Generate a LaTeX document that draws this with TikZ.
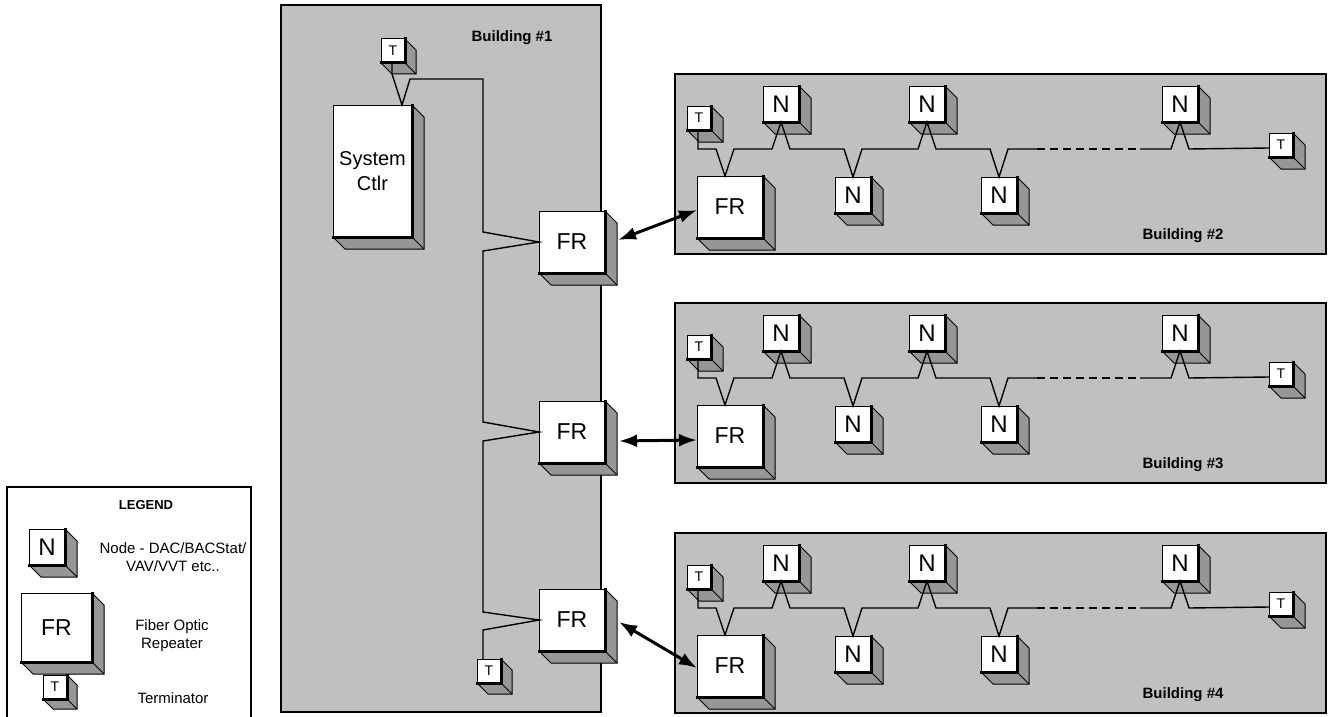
\documentclass[tikz,border=0pt]{standalone}
\usepackage{fontspec}
\setmainfont{Liberation Sans}
\usetikzlibrary{calc,arrows.meta}

\definecolor{bldgray}{RGB}{192,192,192}
\definecolor{sidegray}{RGB}{150,150,150}

\tikzset{
  building/.style={draw, line width=1.8pt, fill=bldgray},
  face/.style={draw, line width=1pt, fill=white, inner sep=0pt, outer sep=0pt, anchor=north west},
  unitN/.style={face, minimum width=36pt, minimum height=36pt, font=\fontsize{24}{24}\selectfont},
  unitFR/.style={face, minimum width=66pt, minimum height=62pt, font=\fontsize{23}{23}\selectfont},
  unitT/.style={face, minimum width=24pt, minimum height=24pt, font=\fontsize{14}{14}\selectfont},
  side/.style={draw, line width=1pt, fill=sidegray, line join=miter},
  edge/.style={line width=1pt},
  rim/.style={line width=3pt, line cap=rect},
  bus/.style={line width=1.4pt, line join=miter},
  busgap/.style={bus, dash pattern=on 8pt off 5pt},
  link/.style={line width=3pt, {Latex[length=18pt,width=13pt]}-{Latex[length=18pt,width=13pt]}},
  bldlabel/.style={font=\fontsize{15}{15}\selectfont\bfseries},
  legtext/.style={align=center, font=\fontsize{15}{18}\selectfont},
}

% grey side faces and dark rim of a unit
\newcommand{\unitside}[2][12]{%
  \filldraw[side] (#2.north east) -- ++(#1,#1) -- ($(#2.south east)+(#1,#1)$) -- ($(#2.south west)+(#1,#1)$) -- (#2.south west) -- (#2.south east) -- cycle;
  \draw[edge] (#2.south east) -- ++(#1,#1);
  \draw[rim] (#2.south west) -- (#2.south east) -- (#2.north east);
}

\begin{document}
\begin{tikzpicture}[x=1pt,y=-1pt]
  \useasboundingbox (0,0) rectangle (1333,717);

  % Building #1
  \draw[building] (281,5) rectangle (601,712);
  \node[bldlabel] (lbl1) at (512,38) {Building \#1};
  \node[unitT] (tA) at (381,39) {T};
  \unitside[11]{tA}
  \node[face, minimum width=79pt, minimum height=132pt, align=center, font=\fontsize{20}{25}\selectfont] (ctlr) at (333,105) {System\\Ctlr};
  \unitside{ctlr}
  \node[unitFR] (fra) at (539,211) {FR};
  \unitside{fra}
  \node[unitFR] (frb) at (539,401) {FR};
  \unitside{frb}
  \node[unitFR] (frc) at (539,589) {FR};
  \unitside{frc}
  \node[unitT] (tB) at (477,659) {T};
  \unitside[11]{tB}
  \draw[bus] ($(tA.south west)+(11,0)$) -- ++(0,11) -- ($(ctlr.north west)+(69,0)$) -- (410,79) -- (483,79)
    -- (483,232) -- (fra.west) -- (483,251)
    -- (483,422) -- (frb.west) -- (483,441)
    -- (483,612) -- (frc.west) -- (483,630)
    -- ($(tB.north west)+(6,0)$);% trunk in building 1

  % Buildings #2 to #4
  \foreach \top/\n in {74/2, 303/3, 533/4} {
    \begin{scope}[shift={(675,\top)}]
      \draw[building] (0,0) rectangle (651,180);
      \node[bldlabel] (lbl\n) at (508,162) {Building \#\n};
      \node[unitT] (tl\n) at (12,32) {T};
      \unitside{tl\n}
      \node[unitFR] (fr\n) at (22,102) {FR};
      \unitside{fr\n}
      \node[unitN] (na\n) at (88,12) {N};
      \unitside{na\n}
      \node[unitN] (nb\n) at (160,103) {N};
      \unitside{nb\n}
      \node[unitN] (nc\n) at (234,12) {N};
      \unitside{nc\n}
      \node[unitN] (nd\n) at (306,103) {N};
      \unitside{nd\n}
      \node[unitN] (ne\n) at (487,12) {N};
      \unitside{ne\n}
      \node[unitT] (tr\n) at (594,59) {T};
      \unitside{tr\n}
      \draw[bus] ($(tl\n.south west)+(11,0)$) -- (23,75) -- (41,75) -- ($(fr\n.north west)+(28,0)$) -- (59,75)
        -- (97,75) -- (na\n.south) -- (115,75)
        -- (169,75) -- (nb\n.north) -- (187,75)
        -- (243,75) -- (nc\n.south) -- (261,75)
        -- (315,75) -- (nd\n.north) -- (333,75) -- (362,75);
      \draw[busgap] (362,75) -- (465,75);% more nodes
      \draw[bus] (465,75) -- (496,75) -- (ne\n.south) -- (514,75) -- ($(tr\n.south west)+(0,-9)$);
    \end{scope}
  }

  % fibre links
  \draw[link] ($(fra.east)+(13,-2)$) -- ($(fr2.west)+(0,3)$);
  \draw[link] ($(frb.east)+(14,9)$) -- ($(fr3.west)+(0,4)$);
  \draw[link] ($(frc.east)+(14,2)$) -- ($(fr4.west)+(0,2)$);

  % Legend
  \draw[line width=1.5pt] (7,720) -- (7,487) -- (251,487) -- (251,720);
  \node[font=\fontsize{13}{13}\selectfont\bfseries] (legtitle) at (146,505) {LEGEND};
  \node[unitN] (lgn) at (29,529) {N};
  \unitside{lgn}
  \node[unitFR, minimum width=71pt, minimum height=69pt] (lgfr) at (21,593) {FR};
  \unitside{lgfr}
  \node[unitT] (lgt) at (43,675) {T};
  \unitside[10]{lgt}
  \node[legtext] (lgntext) at (173,557) {Node - DAC/BACStat/\\VAV/VVT etc..};
  \node[legtext] (lgfrtext) at (172,636) {Fiber Optic\\Repeater};
  \node[legtext] (lgttext) at (173,698) {Terminator};
\end{tikzpicture}
\end{document}
